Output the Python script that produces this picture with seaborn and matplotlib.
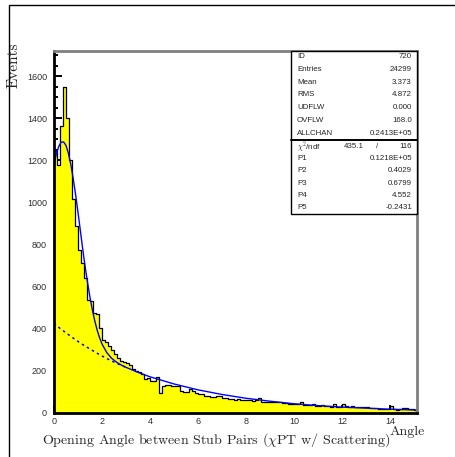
import numpy as np
import pandas as pd
import matplotlib
matplotlib.use("Agg")
import matplotlib.pyplot as plt
import matplotlib.ticker as mticker
from matplotlib.patches import Rectangle
import seaborn as sns

# histogram: 121 bins of width 0.125 from 0 to 15.125
bin_edges = np.linspace(0, 15.125, 122)
counts = [1245, 1178, 1363, 1548, 1401, 1200, 1018, 890, 776, 712,
          641, 537, 530, 475, 470, 405, 345, 335, 318, 300,
          282, 262, 248, 240, 236, 228, 210, 200, 196, 185,
          160, 165, 150, 152, 170, 97, 128, 134, 132, 130,
          130, 128, 106, 100, 99, 112, 104, 96, 92, 90,
          82, 80, 77, 75, 82, 80, 71, 69, 67, 65,
          63, 65, 61, 60, 63, 61, 59, 64, 69, 50,
          51, 52, 51, 54, 52, 52, 47, 46, 44, 42,
          42, 41, 52, 39, 37, 36, 42, 35, 34, 36,
          33, 31, 30, 44, 30, 30, 42, 31, 30, 31,
          28, 28, 27, 30, 27, 25, 24, 22, 21, 20,
          20, 19, 34, 17, 16, 17, 22, 25, 20, 18, 16]

# fit curve (total)
fit_x = [0.0, 0.1, 0.2, 0.3, 0.4, 0.5, 0.6, 0.7, 0.8, 0.9,
         1.0, 1.1, 1.2, 1.3, 1.4, 1.5, 1.6, 1.7, 1.8, 1.9,
         2.0, 2.2, 2.4, 2.6, 2.8, 3.0, 3.5, 4.0, 5.0, 6.0,
         7.0, 8.0, 9.0, 10.0, 11.0, 12.0, 13.0, 14.0, 15.1]
fit_y = [1180, 1231, 1267, 1287, 1288, 1271, 1234, 1181, 1114, 1038,
         953, 865, 776, 693, 618, 549, 489, 437, 393, 357,
         328, 287, 260, 242, 228, 217, 193, 172, 138, 110,
         88, 70, 56, 44, 35, 28, 23, 18, 14]

# background component (dashed)
bkg_x = [0.0, 0.25, 0.5, 0.75, 1.0, 1.25, 1.5, 1.75, 2.0, 2.25, 2.5, 2.75, 3.0]
bkg_y = [426, 402, 381, 360, 340, 321, 304, 287, 271, 256, 242, 229, 217]

stat_labels = ["ID", "Entries", "Mean", "RMS", "UDFLW", "OVFLW", "ALLCHAN"]
stat_values = ["720", "24299", "3.373", "4.872", "0.000", "168.0", "0.2413E+05"]
par_labels = ["P1", "P2", "P3", "P4", "P5"]
par_values = ["0.1218E+05", "0.4029", "0.6799", "4.552", "-0.2431"]

W, H = 455, 457
def fx(x):
    return x / W
def fy(y):
    return 1 - y / H

sns.set_theme(style="white")
plt.rcParams["mathtext.fontset"] = "cm"

fig = plt.figure(figsize=(W / 100, H / 100), dpi=100)
ax = fig.add_axes([fx(54), fy(413), fx(417) - fx(54), fy(51) - fy(413)])

df = pd.DataFrame({"angle": (bin_edges[:-1] + bin_edges[1:]) / 2, "n": counts})
sns.histplot(data=df, x="angle", weights="n", binwidth=0.125, binrange=(0, 15.125),
             element="step", fill=True, facecolor="#ffff00", edgecolor="black",
             linewidth=0.9, alpha=1, ax=ax)
ax.plot(bkg_x, bkg_y, color="#0000ff", lw=1.1, ls=(0, (1.6, 2.2)))
sns.lineplot(x=fit_x, y=fit_y, color="#0000ff", lw=1.0, ax=ax, sort=False)

ax.set_xlim(0, 15.125)
ax.set_ylim(0, 1720)
ax.set_xlabel("")
ax.set_ylabel("")

ax.xaxis.set_major_locator(mticker.MultipleLocator(2))
ax.xaxis.set_minor_locator(mticker.MultipleLocator(0.5))
ax.yaxis.set_major_locator(mticker.MultipleLocator(200))
ax.yaxis.set_minor_locator(mticker.MultipleLocator(50))
ax.tick_params(which="both", direction="in", top=False, right=False,
               bottom=True, left=True, width=1.4, color="black")
ax.tick_params(which="major", length=6)
ax.tick_params(which="minor", length=3)
ax.tick_params(axis="both", labelsize=6.5, labelcolor="#303030")
ax.tick_params(axis="y", pad=5)
ax.tick_params(axis="x", pad=3)
for lab in ax.get_xticklabels() + ax.get_yticklabels():
    lab.set_family("Liberation Sans")

for s in ["left", "bottom"]:
    ax.spines[s].set_color("black")
    ax.spines[s].set_linewidth(2)
for s in ["top", "right"]:
    ax.spines[s].set_color("#808080")
    ax.spines[s].set_linewidth(2)

# axis titles
fig.text(fx(14), fy(42), "Events", rotation=90, ha="center", va="top",
         family="cmr10", fontsize=11)
fig.text(fx(216), fy(440), r"Opening Angle between Stub Pairs ($\chi$PT w/ Scattering)",
         ha="center", va="center", family="cmr10", fontsize=10.1)
fig.text(fx(407), fy(432), "Angle", ha="center", va="center",
         family="cmr10", fontsize=10.1)

# statistics box
bx0, bx1, by0, by1 = 291, 417, 51, 214
fig.patches.append(Rectangle((fx(bx0), fy(by1)), fx(bx1) - fx(bx0), fy(by0) - fy(by1),
                             transform=fig.transFigure, facecolor="white",
                             edgecolor="black", lw=1.0, zorder=5))
div_y = 139.5
fig.lines.append(plt.Line2D([fx(bx0), fx(bx1)], [fy(div_y), fy(div_y)],
                            transform=fig.transFigure, color="black", lw=1.4, zorder=6))
row_y = [56.5, 69.3, 82.1, 94.9, 107.7, 120.5, 133.3,
         146.5, 158.7, 170.9, 183.1, 195.3, 207.5]
rows = list(zip(stat_labels, stat_values)) + [(r"$\chi^2$/ndf", "")] + list(zip(par_labels, par_values))
for yy, (lab, val) in zip(row_y, rows):
    fig.text(fx(297), fy(yy), lab, ha="left", va="center", fontsize=5.7,
             family="Liberation Sans", zorder=7)
    if val:
        fig.text(fx(412), fy(yy), val, ha="right", va="center", fontsize=5.7,
                 family="Liberation Sans", zorder=7)
ychi = row_y[7]
fig.text(fx(364), fy(ychi), "435.1", ha="right", va="center", fontsize=5.7,
         family="Liberation Sans", zorder=7)
fig.text(fx(377), fy(ychi), "/", ha="center", va="center", fontsize=5.7,
         family="Liberation Sans", zorder=7)
fig.text(fx(412), fy(ychi), "116", ha="right", va="center", fontsize=5.7,
         family="Liberation Sans", zorder=7)

# outer frame
fig.patches.append(Rectangle((fx(9), fy(480)), fx(480) - fx(9), fy(5) - fy(480),
                             transform=fig.transFigure, fill=False,
                             edgecolor="black", lw=1.0))

fig.savefig("out.png", dpi=100)
